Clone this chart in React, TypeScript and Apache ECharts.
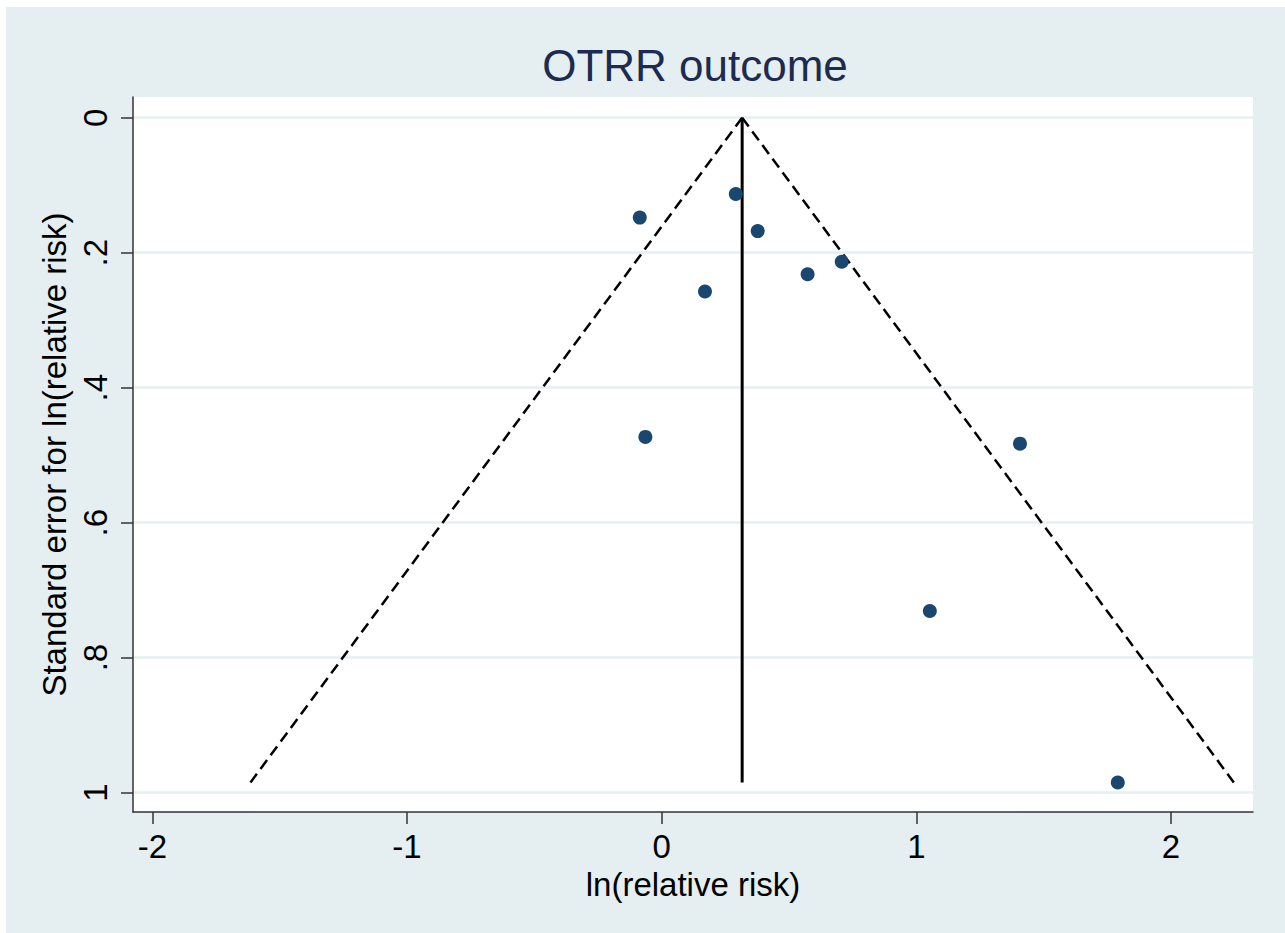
import React, { useEffect, useRef } from "react";
import * as echarts from "echarts";

// Study estimates: log relative risk and its standard error
const lnRR = [-0.086, 0.291, 0.377, 0.707, 0.573, 0.17, -0.064, 1.407, 1.053, 1.791];
const seLnRR = [0.148, 0.113, 0.168, 0.2135, 0.232, 0.2575, 0.473, 0.483, 0.731, 0.985];

// Pooled (fixed-effect) log relative risk and 95% pseudo-confidence multiplier
const pooledLnRR = 0.316;
const zCrit = 1.96;

const xTicks = [-2, -1, 0, 1, 2];
const yTicks = [0, 0.2, 0.4, 0.6, 0.8, 1];

const xRange = [-2.076, 2.322];
const yRange = [-0.0307, 1.0288];

const titleText = "OTRR outcome";
const xTitle = "ln(relative risk)";
const yTitle = "Standard error for ln(relative risk)";

const BG = "#e5eef0";
const NAVY = "#1a476f";
const FONT = "'Liberation Sans', Arial, sans-serif";

export default function App() {
  const ref = useRef<HTMLDivElement>(null);

  useEffect(() => {
    if (!ref.current) return;
    const chart = echarts.init(ref.current, null, { renderer: "svg" });

    const seMax = Math.max(...seLnRR);
    const points = lnRR.map((x, i) => [x, seLnRR[i]]);
    const leftLimit = [
      [pooledLnRR, 0],
      [pooledLnRR - zCrit * seMax, seMax],
    ];
    const rightLimit = [
      [pooledLnRR, 0],
      [pooledLnRR + zCrit * seMax, seMax],
    ];
    const pooledLine = [
      [pooledLnRR, 0],
      [pooledLnRR, seMax],
    ];

    const yFmt = (v: number) => {
      const n = Number(v);
      if (n === 0) return "0";
      if (n === 1) return "1";
      return n.toFixed(1).replace(/^0/, "");
    };

    chart.setOption({
      animation: false,
      backgroundColor: BG,
      title: {
        text: titleText,
        left: 684,
        textAlign: "center",
        top: 31,
        textStyle: {
          fontFamily: FONT,
          fontSize: 44,
          fontWeight: "normal",
          color: "#1c2b4f",
        },
      },
      grid: {
        left: 127,
        top: 90,
        right: 32,
        bottom: 121,
        show: true,
        backgroundColor: "#ffffff",
        borderWidth: 0,
      },
      xAxis: {
        type: "value",
        min: xRange[0],
        max: xRange[1],
        name: xTitle,
        nameLocation: "middle",
        nameGap: 52,
        nameTextStyle: { fontFamily: FONT, fontSize: 33, color: "#000" },
        axisLine: { show: true, onZero: false, lineStyle: { color: "#333", width: 1.5 } },
        axisTick: {
          show: true,
          length: 12,
          customValues: xTicks,
          lineStyle: { color: "#333", width: 1.5 },
        },
        axisLabel: {
          customValues: xTicks,
          margin: 18,
          fontFamily: FONT,
          fontSize: 33,
          color: "#000",
        },
        splitLine: { show: false },
      },
      yAxis: {
        type: "value",
        inverse: true,
        min: yRange[0],
        max: yRange[1],
        name: yTitle,
        nameLocation: "middle",
        nameGap: 60,
        nameTextStyle: { fontFamily: FONT, fontSize: 33, color: "#000" },
        axisLine: { show: true, onZero: false, lineStyle: { color: "#333", width: 1.5 } },
        axisTick: {
          show: true,
          length: 12,
          customValues: yTicks,
          lineStyle: { color: "#333", width: 1.5 },
        },
        axisLabel: {
          customValues: yTicks,
          rotate: 90,
          margin: 21,
          formatter: yFmt,
          fontFamily: FONT,
          fontSize: 33,
          color: "#000",
        },
        splitLine: { show: true, lineStyle: { color: "#e6eff1", width: 2.5 } },
      },
      series: [
        {
          type: "line",
          data: leftLimit,
          symbol: "none",
          lineStyle: { color: "#000", width: 2.5, type: [11, 6] },
          z: 2,
        },
        {
          type: "line",
          data: rightLimit,
          symbol: "none",
          lineStyle: { color: "#000", width: 2.5, type: [11, 6] },
          z: 2,
        },
        {
          type: "line",
          data: pooledLine,
          symbol: "none",
          lineStyle: { color: "#000", width: 3 },
          z: 2,
        },
        {
          type: "scatter",
          data: points,
          symbol: "circle",
          symbolSize: 14,
          itemStyle: { color: NAVY, opacity: 1 },
          z: 3,
        },
      ],
    });

    return () => chart.dispose();
  }, []);

  return (
    <div
      ref={ref}
      style={{ position: "absolute", left: 6, top: 7, width: 1279, height: 926 }}
    />
  );
}
